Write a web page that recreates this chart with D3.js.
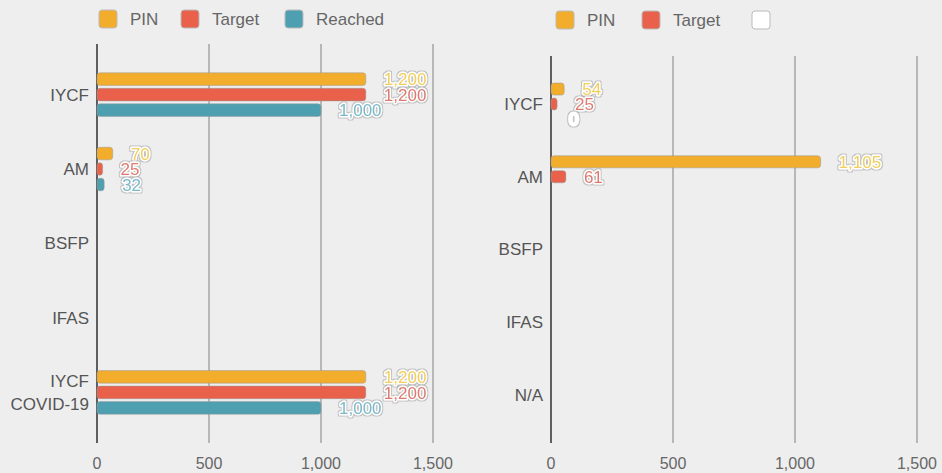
<!DOCTYPE html>
<html lang="en">

<head>
    <meta charset="UTF-8">
    <title>PIN / Target / Reached</title>
    <style>
        body {
            margin: 0;
            background: #eeeeee;
        }

        svg {
            display: block;
            font-family: "Liberation Sans", Arial, sans-serif;
        }

        .cat-label {
            fill: #555;
            font-size: 17px;
        }

        .tick-label {
            fill: #666;
            font-size: 16px;
        }

        .legend-label {
            fill: #666;
            font-size: 17px;
        }

        .value-label {
            font-size: 17px;
            paint-order: stroke;
            stroke: #ffffff;
            stroke-width: 3px;
            stroke-linejoin: round;
        }
    </style>
</head>

<body>
    <svg id="chart"></svg>

    <script src="https://cdnjs.cloudflare.com/ajax/libs/d3/7.9.0/d3.min.js"></script>
    <script>
        // data
        const ticks = [0, 500, 1000, 1500];

        const leftCategories = ["IYCF", "AM", "BSFP", "IFAS", "IYCF\nCOVID-19"];
        const leftSeries = ["PIN", "Target", "Reached"];
        const leftPIN = [1200, 70, null, null, 1200];
        const leftTarget = [1200, 25, null, null, 1200];
        const leftReached = [1000, 32, null, null, 1000];

        const rightCategories = ["IYCF", "AM", "BSFP", "IFAS", "N/A"];
        const rightSeries = ["PIN", "Target", ""];
        const rightPIN = [54, 1105, null, null, null];
        const rightTarget = [25, 61, null, null, null];
        const rightThird = [0, null, null, null, null];

        const colors = ["#f3ad2c", "#e9604b", "#4ea0b0"];
        const labelColors = ["#f2cf5a", "#dd7a70", "#7ab8c8"];
        const rightColors = ["#f3ad2c", "#e9604b", "#ffffff"];
        const rightLabelColors = ["#f2cf5a", "#dd7a70", "#ffffff"];

        const W = 942, H = 473;
        const svg = d3.select("#chart").attr("width", W).attr("height", H);

        // thin grey rim around the white halo of the value labels
        const f = svg.append("defs").append("filter").attr("id", "halo")
            .attr("x", "-20%").attr("y", "-30%").attr("width", "140%").attr("height", "160%");
        f.append("feMorphology").attr("in", "SourceAlpha").attr("operator", "dilate").attr("radius", 0.8).attr("result", "d");
        f.append("feFlood").attr("flood-color", "#8a8a8a").attr("flood-opacity", 0.45);
        f.append("feComposite").attr("in2", "d").attr("operator", "in").attr("result", "o");
        const m = f.append("feMerge");
        m.append("feMergeNode").attr("in", "o");
        m.append("feMergeNode").attr("in", "SourceGraphic");

        function drawPanel(opt) {
            const g = svg.append("g");
            const x = d3.scaleLinear().domain([0, 1500]).range([opt.x0, opt.x1]);
            const y = d3.scalePoint().domain(opt.categories).range([opt.top, opt.bottom]).padding(opt.pad);
            const inner = d3.scaleBand().domain(d3.range(opt.series.length))
                .range([-opt.groupH / 2, opt.groupH / 2]).paddingInner(0.19);

            // grid lines
            g.selectAll(".grid")
                .data(ticks)
                .enter()
                .append("line")
                .attr("x1", d => x(d))
                .attr("x2", d => x(d))
                .attr("y1", opt.top)
                .attr("y2", opt.bottom)
                .attr("stroke", d => d === 0 ? "#3a3a3a" : "#a9a9a9")
                .attr("stroke-width", 1.6);

            // x tick labels
            g.selectAll(".tick-label")
                .data(ticks)
                .enter()
                .append("text")
                .attr("class", "tick-label")
                .attr("x", d => x(d))
                .attr("y", 469)
                .attr("text-anchor", "middle")
                .text(d => d3.format(",")(d));

            // category labels
            opt.categories.forEach(c => {
                const lines = c.split("\n");
                const t = g.append("text")
                    .attr("class", "cat-label")
                    .attr("text-anchor", "end")
                    .attr("x", opt.x0 - 8)
                    .attr("y", y(c) - (lines.length - 1) * 11.5);
                lines.forEach((l, i) => {
                    t.append("tspan")
                        .attr("x", opt.x0 - 8)
                        .attr("dy", i === 0 ? "0.35em" : 23)
                        .text(l);
                });
            });

            // bars + value labels
            const rows = [];
            opt.values.forEach((vals, si) => {
                vals.forEach((v, ci) => {
                    if (v !== null) rows.push({ s: si, c: opt.categories[ci], v: v });
                });
            });

            g.selectAll(".bar")
                .data(rows.filter(d => d.v > 0))
                .enter()
                .append("rect")
                .attr("x", x(0))
                .attr("y", d => y(d.c) + inner(d.s))
                .attr("width", d => x(d.v) - x(0))
                .attr("height", inner.bandwidth())
                .attr("rx", 3)
                .attr("fill", d => opt.colors[d.s])
                .attr("stroke", "#9a9a9a")
                .attr("stroke-opacity", 0.5);

            g.selectAll(".value-label")
                .data(rows)
                .enter()
                .append("text")
                .attr("class", "value-label")
                .attr("x", d => x(d.v) + 18)
                .attr("y", d => y(d.c) + inner(d.s) + inner.bandwidth() / 2)
                .attr("dy", "0.36em")
                .attr("fill", d => opt.labelColors[d.s])
                .attr("filter", "url(#halo)")
                .text(d => d3.format(",")(d.v));

            // legend
            const lg = g.append("g");
            opt.legendX.forEach((lx, i) => {
                lg.append("rect")
                    .attr("x", lx)
                    .attr("y", opt.legendY)
                    .attr("width", 18)
                    .attr("height", 18)
                    .attr("rx", 3)
                    .attr("fill", opt.colors[i])
                    .attr("stroke", "#bbbbbb")
                    .attr("stroke-width", 1);
                lg.append("text")
                    .attr("class", "legend-label")
                    .attr("x", lx + 31)
                    .attr("y", opt.legendY + 9)
                    .attr("dy", "0.35em")
                    .text(opt.series[i]);
            });
        }

        drawPanel({
            categories: leftCategories,
            series: leftSeries,
            values: [leftPIN, leftTarget, leftReached],
            colors: colors,
            labelColors: labelColors,
            x0: 97, x1: 433,
            top: 44, bottom: 443, pad: 0.68,
            groupH: 43.6,
            legendX: [99, 181, 285],
            legendY: 10
        });

        drawPanel({
            categories: rightCategories,
            series: rightSeries,
            values: [rightPIN, rightTarget, rightThird],
            colors: rightColors,
            labelColors: rightLabelColors,
            x0: 551, x1: 917,
            top: 56, bottom: 443, pad: 0.66,
            groupH: 42,
            legendX: [556, 642, 752],
            legendY: 11
        });
    </script>
</body>

</html>
